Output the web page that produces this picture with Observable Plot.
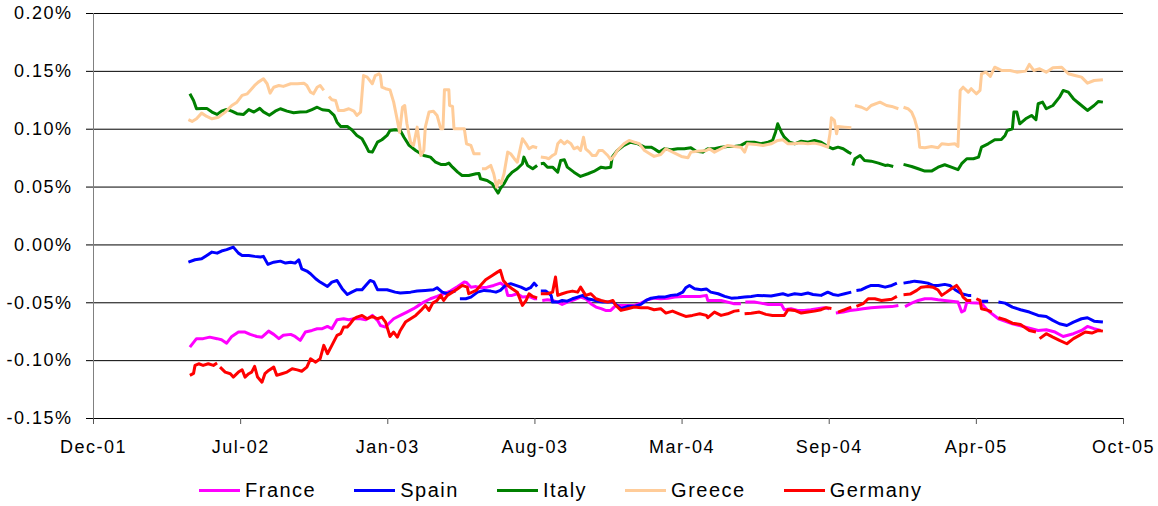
<!DOCTYPE html>
<html><head><meta charset="utf-8">
<script src="https://cdn.jsdelivr.net/npm/d3@7"></script>
<script src="https://cdn.jsdelivr.net/npm/@observablehq/plot@0.6"></script>
<style>
html,body{margin:0;padding:0;background:#fff;}
body{width:1158px;height:506px;position:relative;overflow:hidden;font-family:"Liberation Sans",Arial,sans-serif;}
#chart{position:absolute;left:0;top:0;}
#legend{position:absolute;left:199px;top:478px;height:24px;display:flex;align-items:center;font-size:20px;letter-spacing:1.5px;color:#000;white-space:nowrap;}
.item{display:flex;align-items:center;margin-right:38px;}
.swatch{width:41px;height:3px;margin-right:5px;}
</style></head><body>
<div id="chart"></div><div id="legend"></div>
<script>
const countries = ["France","Spain","Italy","Greece","Germany"];
const colors = ["#FF00FF","#0000FF","#008000","#FFCC99","#FF0000"];
const yTicks = [-0.15,-0.10,-0.05,0,0.05,0.10,0.15,0.20];
const yTickLabels = ["-0.15%","-0.10%","-0.05%","0.00%","0.05%","0.10%","0.15%","0.20%"];
const xTicks = ["2001-12-24","2002-07-12","2003-01-28","2003-08-16","2004-03-03","2004-09-19","2005-04-07","2005-10-24"];
const xTickLabels = ["Dec-01","Jul-02","Jan-03","Aug-03","Mar-04","Sep-04","Apr-05","Oct-05"];

const france = [["2002-05-04",-0.0883],["2002-05-13",-0.081],["2002-05-22",-0.081],["2002-05-31",-0.0797],["2002-06-10",-0.081],["2002-06-16",-0.0819],["2002-06-23",-0.0849],["2002-06-30",-0.0791],["2002-07-09",-0.0753],["2002-07-18",-0.0753],["2002-07-25",-0.0773],["2002-08-03",-0.0791],["2002-08-10",-0.0797],["2002-08-19",-0.0745],["2002-08-26",-0.0773],["2002-09-02",-0.081],["2002-09-08",-0.0781],["2002-09-18",-0.0773],["2002-09-24",-0.0791],["2002-10-01",-0.0825],["2002-10-08",-0.0753],["2002-10-17",-0.0739],["2002-10-24",-0.0724],["2002-10-31",-0.0724],["2002-11-07",-0.0704],["2002-11-13",-0.0724],["2002-11-20",-0.0646],["2002-11-29",-0.0638],["2002-12-06",-0.0646],["2002-12-13",-0.0638],["2002-12-22",-0.0638],["2002-12-29",-0.0646],["2003-01-07",-0.0609],["2003-01-14",-0.0652],["2003-01-18",-0.0696],["2003-01-25",-0.071],["2003-01-29",-0.0681],["2003-02-05",-0.0638],["2003-02-14",-0.0609],["2003-02-23",-0.058],["2003-03-04",-0.0551],["2003-03-09",-0.0531],["2003-03-18",-0.0494],["2003-03-27",-0.0465],["2003-04-05",-0.0445],["2003-04-14",-0.0422],["2003-04-23",-0.0399],["2003-05-03",-0.0359],["2003-05-12",-0.0321],["2003-05-15",-0.0325],["2003-05-21",-0.0365],["2003-05-28",-0.036],["2003-06-03",-0.037],["2003-06-12",-0.0365],["2003-06-21",-0.035],["2003-06-30",-0.033],["2003-07-07",-0.0359],["2003-07-10",-0.0436],["2003-07-16",-0.0436],["2003-07-23",-0.0422],["2003-07-30",-0.0451],["2003-08-08",-0.0445],["2003-08-15",-0.0465],["2003-08-19",-0.0465],["2003-08-22",null],["2003-08-26",-0.048],["2003-09-02",-0.0474],["2003-09-09",-0.048],["2003-09-16",-0.0494],["2003-09-22",-0.0514],["2003-09-29",-0.0494],["2003-10-08",-0.0474],["2003-10-17",-0.0451],["2003-10-24",-0.0465],["2003-10-31",-0.0508],["2003-11-07",-0.0537],["2003-11-14",-0.0551],["2003-11-20",-0.0566],["2003-11-27",-0.0566],["2003-12-04",-0.0523],["2003-12-11",-0.0523],["2003-12-29",-0.0523],["2004-01-07",-0.0503],["2004-01-16",-0.0474],["2004-01-25",-0.046],["2004-02-03",-0.0465],["2004-02-13",-0.046],["2004-02-22",-0.0451],["2004-03-04",-0.0445],["2004-03-15",-0.0445],["2004-03-27",-0.0445],["2004-04-05",-0.0436],["2004-04-07",-0.048],["2004-04-16",-0.048],["2004-04-25",-0.048],["2004-05-04",-0.0494],["2004-05-13",-0.0508],["2004-05-22",-0.0508],["2004-05-25",null],["2004-05-28",-0.0494],["2004-06-09",-0.0494],["2004-06-18",-0.0503],["2004-06-28",-0.0514],["2004-07-16",-0.0514],["2004-07-20",-0.056],["2004-07-29",-0.0551],["2004-08-07",-0.0566],["2004-08-16",-0.0566],["2004-08-25",-0.056],["2004-09-03",-0.0551],["2004-09-12",-0.0542],["2004-09-19",-0.0551],["2004-09-23",null],["2004-09-28",-0.0589],["2004-10-08",-0.058],["2004-10-17",-0.0566],["2004-10-26",-0.056],["2004-11-04",-0.0551],["2004-11-15",-0.0542],["2004-11-29",-0.0537],["2004-12-13",-0.0533],["2004-12-22",-0.0523],["2004-12-25",null],["2004-12-31",-0.0533],["2005-01-09",-0.0503],["2005-01-18",-0.048],["2005-01-27",-0.0465],["2005-02-05",-0.0465],["2005-02-14",-0.0474],["2005-02-23",-0.048],["2005-03-04",-0.0486],["2005-03-13",-0.0494],["2005-03-18",-0.058],["2005-03-22",-0.0566],["2005-03-25",-0.0494],["2005-03-31",-0.05],["2005-04-14",-0.0503],["2005-04-23",-0.057],["2005-05-07",-0.0638],["2005-05-26",-0.0681],["2005-06-13",-0.071],["2005-06-30",-0.0739],["2005-07-11",-0.0733],["2005-07-23",-0.0753],["2005-08-03",-0.0791],["2005-08-17",-0.0767],["2005-08-28",-0.0739],["2005-09-05",-0.0704],["2005-09-14",-0.0724],["2005-09-23",-0.0739]];

const spain = [["2002-05-02",-0.0149],["2002-05-11",-0.0128],["2002-05-20",-0.012],["2002-05-27",-0.0091],["2002-06-03",-0.0062],["2002-06-10",-0.0071],["2002-06-16",-0.0053],["2002-06-23",-0.0041],["2002-07-02",-0.0019],["2002-07-09",-0.0071],["2002-07-14",-0.0091],["2002-07-23",-0.0091],["2002-07-31",-0.0099],["2002-08-08",-0.0105],["2002-08-12",-0.0099],["2002-08-18",-0.0168],["2002-08-26",-0.0149],["2002-09-04",-0.014],["2002-09-11",-0.0157],["2002-09-18",-0.0149],["2002-09-24",-0.0157],["2002-09-29",-0.0128],["2002-10-03",-0.0206],["2002-10-10",-0.0226],["2002-10-15",-0.0249],["2002-10-22",-0.0292],["2002-10-28",-0.0321],["2002-11-07",-0.0359],["2002-11-13",-0.0321],["2002-11-20",-0.0307],["2002-11-27",-0.0378],["2002-12-04",-0.0428],["2002-12-10",-0.0408],["2002-12-17",-0.0387],["2002-12-24",-0.0387],["2002-12-29",-0.035],["2003-01-04",-0.0307],["2003-01-09",-0.032],["2003-01-14",-0.0387],["2003-01-27",-0.0387],["2003-02-07",-0.0408],["2003-02-14",-0.0416],["2003-02-28",-0.0408],["2003-03-09",-0.0399],["2003-03-20",-0.0393],["2003-03-31",-0.0387],["2003-04-05",-0.037],["2003-04-12",-0.0408],["2003-04-19",-0.0422],["2003-04-23",-0.0408],["2003-04-30",-0.0399],["2003-05-02",null],["2003-05-06",-0.0465],["2003-05-14",-0.0465],["2003-05-21",-0.0451],["2003-05-30",-0.0408],["2003-06-08",-0.0393],["2003-06-17",-0.0399],["2003-06-24",-0.0408],["2003-06-30",-0.0393],["2003-07-07",-0.035],["2003-07-14",-0.0335],["2003-07-21",-0.035],["2003-07-28",-0.0365],["2003-08-04",-0.0387],["2003-08-10",-0.037],["2003-08-15",-0.033],["2003-08-19",-0.0359],["2003-08-22",null],["2003-08-24",-0.0399],["2003-08-31",-0.0399],["2003-09-07",-0.0436],["2003-09-09",-0.0494],["2003-09-16",-0.0494],["2003-09-22",-0.048],["2003-09-29",-0.0486],["2003-10-06",-0.0465],["2003-10-13",-0.0451],["2003-10-20",-0.0436],["2003-10-27",-0.0465],["2003-11-02",-0.0474],["2003-11-09",-0.0486],["2003-11-16",-0.0494],["2003-11-30",-0.0494],["2003-12-04",-0.0514],["2003-12-11",-0.0551],["2003-12-20",-0.0531],["2003-12-29",-0.0531],["2004-01-07",-0.0514],["2004-01-14",-0.048],["2004-01-21",-0.046],["2004-01-30",-0.0451],["2004-02-08",-0.0451],["2004-02-17",-0.0436],["2004-02-26",-0.043],["2004-03-04",-0.0408],["2004-03-08",-0.037],["2004-03-13",-0.035],["2004-03-20",-0.0378],["2004-03-29",-0.0387],["2004-04-05",-0.038],["2004-04-11",-0.0408],["2004-04-21",-0.0422],["2004-04-30",-0.0445],["2004-05-09",-0.046],["2004-05-18",-0.0457],["2004-05-27",-0.0451],["2004-06-05",-0.0445],["2004-06-14",-0.0436],["2004-07-02",-0.0442],["2004-07-18",-0.0422],["2004-07-25",-0.0436],["2004-08-03",-0.0422],["2004-08-12",-0.0428],["2004-08-21",-0.0416],["2004-08-28",-0.0428],["2004-09-08",-0.0436],["2004-09-17",-0.0408],["2004-09-24",-0.0428],["2004-10-01",-0.0436],["2004-10-10",-0.0422],["2004-10-19",-0.0408],["2004-10-20",null],["2004-10-26",-0.0393],["2004-11-02",-0.0387],["2004-11-09",-0.0365],["2004-11-15",-0.035],["2004-11-25",-0.035],["2004-12-04",-0.0365],["2004-12-13",-0.035],["2004-12-20",-0.033],["2004-12-24",null],["2004-12-29",-0.033],["2005-01-07",-0.0321],["2005-01-13",-0.0313],["2005-01-22",-0.0321],["2005-01-31",-0.033],["2005-02-07",-0.035],["2005-02-14",-0.035],["2005-02-23",-0.0341],["2005-03-02",-0.035],["2005-03-09",-0.0387],["2005-03-18",-0.0422],["2005-03-27",-0.0436],["2005-03-31",-0.0436],["2005-04-05",null],["2005-04-14",-0.0486],["2005-04-23",-0.0486],["2005-04-28",null],["2005-05-07",-0.0494],["2005-05-16",-0.0503],["2005-05-26",-0.0537],["2005-06-06",-0.056],["2005-06-18",-0.058],["2005-06-30",-0.0609],["2005-07-11",-0.0618],["2005-07-20",-0.0652],["2005-07-29",-0.0681],["2005-08-08",-0.0696],["2005-08-17",-0.0667],["2005-08-28",-0.0638],["2005-09-05",-0.0629],["2005-09-14",-0.0659],["2005-09-26",-0.0667]];

const italy = [["2002-05-04",0.1306],["2002-05-09",0.1249],["2002-05-13",0.1177],["2002-05-20",0.118],["2002-05-27",0.118],["2002-06-03",0.1148],["2002-06-10",0.1128],["2002-06-16",0.1156],["2002-06-23",0.1171],["2002-06-30",0.1156],["2002-07-07",0.1134],["2002-07-16",0.1128],["2002-07-23",0.117],["2002-07-30",0.1148],["2002-08-07",0.118],["2002-08-12",0.115],["2002-08-20",0.1121],["2002-08-28",0.1156],["2002-09-04",0.1177],["2002-09-13",0.1156],["2002-09-22",0.1142],["2002-10-01",0.1148],["2002-10-10",0.1151],["2002-10-17",0.117],["2002-10-24",0.119],["2002-10-31",0.1168],["2002-11-09",0.1162],["2002-11-16",0.1119],["2002-11-20",0.1061],["2002-11-25",0.1024],["2002-12-04",0.1024],["2002-12-10",0.0995],["2002-12-17",0.0946],["2002-12-24",0.0918],["2002-12-29",0.086],["2003-01-02",0.0808],["2003-01-07",0.0802],["2003-01-14",0.0888],["2003-01-20",0.0909],["2003-01-27",0.0946],["2003-01-31",0.0989],["2003-02-07",0.0995],["2003-02-14",0.0989],["2003-02-19",0.0931],["2003-02-26",0.086],["2003-03-07",0.0816],["2003-03-13",0.0793],["2003-03-18",0.0773],["2003-03-27",0.0759],["2003-04-03",0.0715],["2003-04-10",0.0696],["2003-04-17",0.0696],["2003-04-21",0.0707],["2003-04-26",0.0672],["2003-05-03",0.0629],["2003-05-09",0.06],["2003-05-18",0.06],["2003-05-28",0.0615],["2003-06-01",0.0618],["2003-06-03",0.0572],["2003-06-12",0.0557],["2003-06-19",0.0529],["2003-06-24",0.0477],["2003-06-27",0.0448],["2003-06-30",0.0486],["2003-07-05",0.0529],["2003-07-10",0.0586],["2003-07-16",0.0629],["2003-07-23",0.0658],["2003-07-30",0.0702],["2003-08-01",0.0759],["2003-08-06",0.0687],["2003-08-13",0.0658],["2003-08-19",0.0687],["2003-08-22",null],["2003-08-24",0.0702],["2003-08-28",0.0705],["2003-09-02",0.0672],["2003-09-09",0.0672],["2003-09-16",0.0629],["2003-09-20",0.073],["2003-09-25",0.0736],["2003-09-29",0.0672],["2003-10-08",0.0629],["2003-10-17",0.0592],["2003-10-27",0.0615],["2003-11-04",0.0635],["2003-11-14",0.0672],["2003-11-20",0.0665],["2003-11-27",0.0672],["2003-11-29",0.0759],["2003-12-06",0.0816],["2003-12-15",0.086],["2003-12-24",0.0888],["2004-01-03",0.0874],["2004-01-12",0.0845],["2004-01-21",0.0845],["2004-01-25",0.0831],["2004-02-01",0.0802],["2004-02-08",0.0831],["2004-02-17",0.0822],["2004-02-26",0.0831],["2004-03-06",0.0831],["2004-03-15",0.084],["2004-03-22",0.081],["2004-03-31",0.0802],["2004-04-07",0.0831],["2004-04-16",0.0831],["2004-04-25",0.0845],["2004-05-04",0.0851],["2004-05-13",0.0851],["2004-05-22",0.086],["2004-05-30",0.0888],["2004-06-09",0.0888],["2004-06-18",0.0874],["2004-06-28",0.0888],["2004-07-04",0.0903],["2004-07-08",0.0974],["2004-07-11",0.1047],["2004-07-16",0.0974],["2004-07-20",0.0931],["2004-07-27",0.0888],["2004-08-03",0.0874],["2004-08-12",0.0897],["2004-08-21",0.0888],["2004-08-30",0.0903],["2004-09-08",0.0888],["2004-09-17",0.0851],["2004-09-24",0.0831],["2004-10-01",0.0845],["2004-10-08",0.0831],["2004-10-15",0.0802],["2004-10-19",0.0788],["2004-10-20",null],["2004-10-21",0.0687],["2004-10-24",0.0745],["2004-10-31",0.0773],["2004-11-06",0.073],["2004-11-15",0.0724],["2004-11-25",0.0707],["2004-12-04",0.0687],["2004-12-08",0.069],["2004-12-15",0.0678],["2004-12-22",null],["2004-12-29",0.0696],["2005-01-09",0.0678],["2005-01-18",0.0658],["2005-01-27",0.0638],["2005-02-05",0.0638],["2005-02-14",0.0672],["2005-02-23",0.0693],["2005-03-04",0.0672],["2005-03-13",0.065],["2005-03-18",0.0702],["2005-03-25",0.0745],["2005-04-03",0.0745],["2005-04-10",0.0759],["2005-04-14",0.0845],["2005-04-23",0.0874],["2005-05-02",0.0909],["2005-05-11",0.0911],["2005-05-16",0.0946],["2005-05-19",0.0989],["2005-05-26",0.1004],["2005-05-28",0.1148],["2005-06-01",0.1148],["2005-06-05",0.1047],["2005-06-13",0.109],["2005-06-21",0.1119],["2005-06-27",0.1082],["2005-06-30",0.122],["2005-07-06",0.1234],["2005-07-11",0.1177],["2005-07-20",0.1205],["2005-07-29",0.1277],["2005-08-03",0.1335],["2005-08-10",0.132],["2005-08-17",0.1263],["2005-08-25",0.122],["2005-09-05",0.1162],["2005-09-14",0.1205],["2005-09-20",0.124],["2005-09-26",0.1234]];

const greece = [["2002-05-02",0.1082],["2002-05-07",0.1067],["2002-05-13",0.109],["2002-05-20",0.1139],["2002-05-27",0.111],["2002-06-03",0.109],["2002-06-12",0.1104],["2002-06-21",0.1148],["2002-06-30",0.1205],["2002-07-07",0.1234],["2002-07-14",0.1292],["2002-07-21",0.1306],["2002-07-25",0.1335],["2002-07-31",0.1378],["2002-08-05",0.1407],["2002-08-12",0.1436],["2002-08-17",0.1393],["2002-08-21",0.1312],["2002-08-26",0.1363],["2002-09-02",0.1378],["2002-09-08",0.137],["2002-09-18",0.1393],["2002-09-27",0.1393],["2002-10-06",0.1398],["2002-10-10",0.1378],["2002-10-15",0.132],["2002-10-19",0.1306],["2002-10-24",0.1363],["2002-10-28",0.1378],["2002-11-02",0.1335],["2002-11-04",null],["2002-11-09",0.1283],["2002-11-13",0.1254],["2002-11-18",0.1249],["2002-11-22",0.1162],["2002-11-29",0.1162],["2002-12-06",0.1177],["2002-12-13",0.1156],["2002-12-17",0.1119],["2002-12-22",0.1148],["2002-12-24",0.1306],["2002-12-26",0.1464],["2002-12-31",0.145],["2003-01-07",0.1393],["2003-01-11",0.1464],["2003-01-16",0.1479],["2003-01-18",0.1464],["2003-01-20",0.1363],["2003-01-25",0.135],["2003-01-31",0.134],["2003-02-05",0.1234],["2003-02-10",0.1076],["2003-02-13",0.0974],["2003-02-17",0.119],["2003-02-20",0.1205],["2003-02-23",0.1047],["2003-02-28",0.0888],["2003-03-04",0.086],["2003-03-09",0.1018],["2003-03-14",0.0773],["2003-03-18",0.0816],["2003-03-20",0.1018],["2003-03-25",0.1148],["2003-03-31",0.1156],["2003-04-05",0.1119],["2003-04-10",0.1004],["2003-04-13",0.1004],["2003-04-15",0.134],["2003-04-21",0.134],["2003-04-22",0.1205],["2003-04-26",0.1197],["2003-04-28",0.1004],["2003-05-05",0.1004],["2003-05-12",0.1004],["2003-05-15",0.0874],["2003-05-21",0.086],["2003-05-25",0.0788],["2003-06-03",0.0788],["2003-06-04",null],["2003-06-05",0.0658],["2003-06-10",0.0658],["2003-06-17",0.0687],["2003-06-21",0.0615],["2003-06-25",0.05],["2003-06-28",0.0557],["2003-07-01",0.0529],["2003-07-05",0.0615],["2003-07-10",0.0802],["2003-07-14",0.0788],["2003-07-19",0.0745],["2003-07-23",0.0715],["2003-07-30",0.0918],["2003-08-04",0.0874],["2003-08-08",0.0831],["2003-08-13",0.0851],["2003-08-19",0.084],["2003-08-22",null],["2003-08-24",0.0759],["2003-08-31",0.0753],["2003-09-04",0.0745],["2003-09-09",0.0773],["2003-09-13",0.0788],["2003-09-16",0.0874],["2003-09-20",0.0903],["2003-09-25",0.0874],["2003-09-29",0.0897],["2003-10-04",0.0874],["2003-10-08",0.0831],["2003-10-13",0.0845],["2003-10-17",0.0816],["2003-10-21",0.0931],["2003-10-24",0.0831],["2003-10-29",0.0802],["2003-11-02",0.0773],["2003-11-07",0.0773],["2003-11-11",0.0816],["2003-11-16",0.0816],["2003-11-23",0.0773],["2003-11-27",0.0736],["2003-12-02",0.0773],["2003-12-06",0.0816],["2003-12-15",0.0874],["2003-12-22",0.0903],["2003-12-29",0.0888],["2004-01-05",0.0874],["2004-01-12",0.0816],["2004-01-19",0.0788],["2004-01-25",0.0765],["2004-02-03",0.0782],["2004-02-10",0.0831],["2004-02-22",0.0793],["2004-03-02",0.0765],["2004-03-11",0.0753],["2004-03-15",0.0802],["2004-03-24",0.081],["2004-04-05",0.0816],["2004-04-09",0.0831],["2004-04-16",0.0802],["2004-04-25",0.0831],["2004-05-04",0.086],["2004-05-13",0.0851],["2004-05-22",0.0845],["2004-05-27",0.0802],["2004-05-31",0.0874],["2004-06-12",0.0868],["2004-06-21",0.086],["2004-07-02",0.0874],["2004-07-11",0.0903],["2004-07-18",0.0909],["2004-07-25",0.0874],["2004-07-31",0.0874],["2004-08-12",0.088],["2004-08-21",0.0874],["2004-08-30",0.088],["2004-09-08",0.0868],["2004-09-17",0.0845],["2004-09-20",0.096],["2004-09-22",0.1099],["2004-09-26",0.1076],["2004-09-29",0.096],["2004-10-01",0.1024],["2004-10-10",0.1018],["2004-10-19",0.1012],["2004-10-20",null],["2004-10-24",0.1205],["2004-11-02",0.119],["2004-11-09",0.1168],["2004-11-15",0.1205],["2004-11-27",0.1234],["2004-12-06",0.1205],["2004-12-13",0.1197],["2004-12-22",0.1177],["2004-12-25",null],["2004-12-29",0.119],["2005-01-04",0.1177],["2005-01-09",0.1148],["2005-01-13",0.109],["2005-01-18",0.0974],["2005-01-20",0.0845],["2005-01-27",0.084],["2005-02-05",0.0851],["2005-02-14",0.084],["2005-02-19",0.0874],["2005-02-28",0.0868],["2005-03-09",0.0874],["2005-03-13",0.0851],["2005-03-16",0.1335],["2005-03-20",0.1363],["2005-03-27",0.132],["2005-03-31",0.135],["2005-04-07",0.1306],["2005-04-12",0.1335],["2005-04-14",0.1479],["2005-04-20",0.1493],["2005-04-26",0.1456],["2005-05-02",0.1536],["2005-05-11",0.1508],["2005-05-23",0.1508],["2005-06-01",0.1493],["2005-06-13",0.1502],["2005-06-18",0.156],["2005-06-24",0.1508],["2005-07-02",0.1522],["2005-07-11",0.1493],["2005-07-20",0.1531],["2005-08-01",0.1536],["2005-08-10",0.1479],["2005-08-19",0.1464],["2005-08-28",0.145],["2005-09-05",0.1398],["2005-09-14",0.1421],["2005-09-26",0.1427]];

const germany = [["2002-05-04",-0.1127],["2002-05-09",-0.111],["2002-05-11",-0.1041],["2002-05-16",-0.1027],["2002-05-22",-0.1041],["2002-05-29",-0.1027],["2002-06-05",-0.1041],["2002-06-10",-0.1021],["2002-06-12",null],["2002-06-14",-0.1056],["2002-06-21",-0.1099],["2002-06-28",-0.1113],["2002-07-02",-0.1142],["2002-07-09",-0.1099],["2002-07-14",-0.1079],["2002-07-18",-0.1142],["2002-07-23",-0.1113],["2002-07-27",-0.1099],["2002-07-31",-0.105],["2002-08-04",-0.1142],["2002-08-10",-0.1186],["2002-08-14",-0.1113],["2002-08-19",-0.1085],["2002-08-26",-0.1056],["2002-08-30",-0.1127],["2002-09-06",-0.1113],["2002-09-13",-0.1099],["2002-09-20",-0.107],["2002-09-27",-0.108],["2002-10-03",-0.1092],["2002-10-10",-0.1056],["2002-10-15",-0.0984],["2002-10-22",-0.1013],["2002-10-28",-0.0984],["2002-11-02",-0.0868],["2002-11-07",-0.094],["2002-11-13",-0.0868],["2002-11-20",-0.0782],["2002-11-25",-0.0767],["2002-11-29",-0.071],["2002-12-04",-0.071],["2002-12-08",-0.0681],["2002-12-13",-0.0638],["2002-12-17",-0.0624],["2002-12-24",-0.0609],["2002-12-31",-0.0638],["2003-01-07",-0.0618],["2003-01-14",-0.0638],["2003-01-20",-0.0624],["2003-01-25",-0.0667],["2003-01-31",-0.0791],["2003-02-05",-0.0753],["2003-02-10",-0.0797],["2003-02-14",-0.0739],["2003-02-21",-0.0667],["2003-02-28",-0.0638],["2003-03-07",-0.0609],["2003-03-14",-0.0566],["2003-03-20",-0.0523],["2003-03-25",-0.0566],["2003-03-30",-0.0503],["2003-04-05",-0.048],["2003-04-10",-0.0436],["2003-04-14",-0.048],["2003-04-19",-0.0436],["2003-04-26",-0.0408],["2003-05-03",-0.0378],["2003-05-09",-0.035],["2003-05-16",-0.0365],["2003-05-18",-0.0422],["2003-05-28",-0.0393],["2003-06-03",-0.035],["2003-06-10",-0.0301],["2003-06-19",-0.0264],["2003-06-26",-0.0235],["2003-06-30",-0.022],["2003-07-04",-0.0307],["2003-07-10",-0.035],["2003-07-16",-0.0378],["2003-07-23",-0.0408],["2003-07-30",-0.0523],["2003-08-04",-0.048],["2003-08-08",-0.0422],["2003-08-13",-0.0445],["2003-08-19",-0.0457],["2003-08-22",null],["2003-08-24",-0.0422],["2003-09-02",-0.0422],["2003-09-09",-0.0408],["2003-09-13",-0.0278],["2003-09-16",-0.0436],["2003-09-22",-0.0422],["2003-09-29",-0.0408],["2003-10-06",-0.0399],["2003-10-13",-0.0408],["2003-10-17",-0.0365],["2003-10-24",-0.0436],["2003-10-31",-0.0422],["2003-11-07",-0.0465],["2003-11-14",-0.048],["2003-11-23",-0.0494],["2003-11-30",-0.048],["2003-12-04",-0.0523],["2003-12-11",-0.0566],["2003-12-20",-0.0551],["2003-12-29",-0.0537],["2004-01-07",-0.0542],["2004-01-16",-0.0542],["2004-01-25",-0.056],["2004-02-03",-0.0551],["2004-02-10",-0.0589],["2004-02-19",-0.0572],["2004-02-28",-0.0595],["2004-03-08",-0.0618],["2004-03-17",-0.0609],["2004-03-27",-0.0595],["2004-04-05",-0.0609],["2004-04-07",-0.0629],["2004-04-16",-0.058],["2004-04-25",-0.0609],["2004-05-04",-0.0595],["2004-05-13",-0.0572],["2004-05-20",-0.0566],["2004-05-23",null],["2004-05-27",-0.0595],["2004-06-05",-0.059],["2004-06-16",-0.058],["2004-06-25",-0.06],["2004-07-04",-0.0609],["2004-07-20",-0.0609],["2004-07-25",-0.056],["2004-08-03",-0.0566],["2004-08-12",-0.0589],["2004-08-21",-0.058],["2004-08-30",-0.0572],["2004-09-08",-0.056],["2004-09-15",-0.0542],["2004-09-22",-0.055],["2004-09-25",null],["2004-10-01",-0.058],["2004-10-10",-0.056],["2004-10-19",-0.0537],["2004-10-20",null],["2004-10-26",-0.0531],["2004-11-04",-0.0508],["2004-11-11",-0.0465],["2004-11-20",-0.0465],["2004-11-29",-0.048],["2004-12-13",-0.047],["2004-12-20",-0.0445],["2004-12-24",null],["2004-12-29",-0.043],["2005-01-07",-0.0425],["2005-01-16",-0.0393],["2005-01-22",-0.0365],["2005-01-31",-0.0359],["2005-02-07",-0.0365],["2005-02-14",-0.039],["2005-02-19",-0.0436],["2005-02-25",-0.041],["2005-03-04",-0.0378],["2005-03-11",-0.035],["2005-03-16",-0.0393],["2005-03-20",-0.0451],["2005-03-25",-0.048],["2005-03-31",-0.048],["2005-04-03",null],["2005-04-07",-0.0465],["2005-04-12",-0.048],["2005-04-14",-0.0551],["2005-04-23",-0.0566],["2005-04-28",-0.058],["2005-05-02",null],["2005-05-07",-0.0629],["2005-05-16",-0.0646],["2005-05-26",-0.0676],["2005-06-06",-0.0687],["2005-06-18",-0.0739],["2005-06-27",-0.0753],["2005-06-28",null],["2005-07-02",-0.081],["2005-07-11",-0.0767],["2005-07-20",-0.0797],["2005-07-29",-0.0825],["2005-08-08",-0.0854],["2005-08-17",-0.081],["2005-08-25",-0.0782],["2005-09-02",-0.0753],["2005-09-11",-0.0762],["2005-09-20",-0.0739],["2005-09-26",-0.0745]];

const seriesData = [france, spain, italy, greece, germany];

const parse = s => new Date(s + "T00:00:00Z");
const xTickDates = xTicks.map(parse);

const marks = [
  Plot.ruleY(yTicks, {stroke: "#000", strokeWidth: 1}),
  Plot.ruleX([xTickDates[0]], {stroke: "#808080", strokeWidth: 1}),
  Plot.axisY(yTicks, {tickSize: 7, tickPadding: 14, stroke: "#000",
    tickFormat: d => yTickLabels[yTicks.indexOf(d)]}),
  Plot.axisX(xTickDates, {tickSize: 6, tickPadding: 16, stroke: "#555",
    tickFormat: d => xTickLabels[xTickDates.findIndex(t => +t === +d)]})
];
seriesData.forEach((data, i) => {
  marks.push(Plot.line(data, {
    x: d => parse(d[0]), y: d => d[1],
    stroke: colors[i], strokeWidth: 3, strokeLinejoin: "round", strokeLinecap: "butt"
  }));
});

const chart = Plot.plot({
  width: 1158, height: 460,
  marginLeft: 93, marginRight: 35, marginTop: 13, marginBottom: 42,
  x: {type: "utc", domain: [xTickDates[0], xTickDates[xTickDates.length - 1]]},
  y: {domain: [-0.15, 0.20]},
  style: {fontFamily: "'Liberation Sans', Arial, sans-serif", fontSize: "18px", letterSpacing: "1.5px", color: "#000", background: "#fff", overflow: "visible"},
  marks
});
document.getElementById("chart").appendChild(chart);

const legend = document.getElementById("legend");
countries.forEach((name, i) => {
  const item = document.createElement("div");
  item.className = "item";
  const sw = document.createElement("span");
  sw.className = "swatch";
  sw.style.background = colors[i];
  const label = document.createElement("span");
  label.textContent = name;
  item.appendChild(sw);
  item.appendChild(label);
  legend.appendChild(item);
});
</script>
</body></html>
